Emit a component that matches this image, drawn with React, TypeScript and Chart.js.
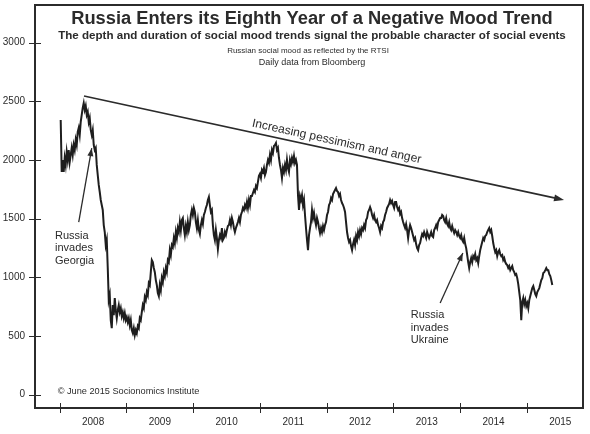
import React, { useEffect, useRef } from "react";
import { Chart, registerables } from "chart.js";

Chart.register(...registerables);

const FONT = '"Liberation Sans", Arial, Helvetica, sans-serif';
const INK = "#2b2b2b";

// Sampling of the RTSI series (decimal years), roughly every 5.5 days
const startYear = 2008.015;
const sampleStepYears = 0.015;

// RTSI index values, in order
const rtsiValues = [
  2340, 1897, 1999, 1897, 2016, 1957, 2067, 1999, 2084, 1982,
  2042, 2102, 2042, 2127, 2084, 2170, 2127, 2238, 2272, 2213,
  2323, 2383, 2443, 2485, 2426, 2460, 2383, 2409, 2323, 2358,
  2255, 2213, 2255, 2127, 2084, 2102, 1957, 1871, 1786, 1726,
  1658, 1615, 1573, 1444, 1385, 1274, 1317, 1078, 805, 847,
  634, 566, 762, 677, 822, 719, 651, 719, 762, 702,
  736, 668, 702, 651, 694, 634, 660, 617, 651, 591,
  634, 549, 523, 566, 506, 549, 523, 583, 566, 651,
  634, 702, 762, 736, 830, 805, 873, 847, 950, 933,
  1043, 1146, 1129, 1078, 1043, 975, 933, 865, 839, 933,
  890, 992, 958, 1043, 1009, 1078, 1043, 1146, 1129, 1231,
  1189, 1274, 1257, 1334, 1291, 1385, 1334, 1419, 1385, 1470,
  1402, 1487, 1504, 1419, 1359, 1436, 1385, 1470, 1402, 1444,
  1530, 1573, 1530, 1590, 1556, 1470, 1419, 1487, 1402, 1368,
  1444, 1487, 1453, 1530, 1556, 1590, 1615, 1658, 1684, 1615,
  1556, 1573, 1444, 1359, 1317, 1402, 1334, 1240, 1317, 1359,
  1334, 1419, 1317, 1334, 1385, 1359, 1402, 1436, 1444, 1487,
  1444, 1504, 1470, 1419, 1385, 1419, 1444, 1470, 1504, 1470,
  1530, 1556, 1590, 1573, 1615, 1590, 1641, 1590, 1658, 1615,
  1692, 1692, 1718, 1743, 1726, 1777, 1760, 1812, 1863, 1880,
  1846, 1914, 1897, 1931, 1871, 1897, 1957, 1999, 1974, 2042,
  1999, 2084, 2059, 2119, 2127, 2144, 2084, 2102, 2016, 1957,
  1914, 1846, 1931, 1897, 1957, 1914, 1999, 1931, 1897, 1999,
  1965, 2016, 1982, 2033, 1974, 1999, 1957, 1700, 1573, 1692,
  1658, 1700, 1615, 1658, 1530, 1419, 1317, 1231, 1359, 1419,
  1470, 1573, 1504, 1547, 1487, 1444, 1504, 1470, 1419, 1376,
  1419, 1385, 1436, 1402, 1444, 1470, 1530, 1556, 1615, 1632,
  1675, 1658, 1709, 1726, 1743, 1760, 1735, 1726, 1692, 1709,
  1658, 1632, 1615, 1590, 1556, 1470, 1385, 1334, 1300, 1317,
  1265, 1231, 1282, 1317, 1274, 1351, 1317, 1385, 1351, 1402,
  1368, 1419, 1402, 1444, 1419, 1487, 1504, 1556, 1573, 1598,
  1573, 1530, 1504, 1530, 1487, 1470, 1487, 1444, 1419, 1385,
  1436, 1419, 1470, 1487, 1530, 1556, 1590, 1607, 1624, 1658,
  1632, 1650, 1615, 1590, 1641, 1641, 1598, 1573, 1590, 1539,
  1556, 1504, 1470, 1444, 1419, 1453, 1402, 1334, 1402, 1444,
  1419, 1385, 1351, 1317, 1334, 1282, 1248, 1231, 1274, 1291,
  1334, 1368, 1351, 1385, 1359, 1334, 1385, 1359, 1334, 1359,
  1385, 1351, 1342, 1402, 1419, 1444, 1419, 1470, 1487, 1504,
  1504, 1530, 1521, 1487, 1470, 1504, 1453, 1436, 1470, 1419,
  1402, 1436, 1402, 1376, 1402, 1385, 1359, 1385, 1351, 1334,
  1359, 1317, 1300, 1334, 1282, 1248, 1189, 1129, 1078, 1129,
  1163, 1129, 1180, 1163, 1197, 1146, 1163, 1120, 1180, 1231,
  1265, 1300, 1334, 1317, 1351, 1359, 1385, 1402, 1419, 1385,
  1402, 1351, 1291, 1248, 1214, 1231, 1180, 1214, 1231, 1197,
  1180, 1189, 1146, 1163, 1129, 1112, 1103, 1078, 1095, 1060,
  1078, 1095, 1060, 1043, 1018, 1026, 992, 941, 873, 805,
  634, 787, 822, 770, 805, 753, 779, 736, 805, 839,
  873, 907, 924, 890, 856, 839, 873, 890, 907, 941,
  975, 992, 1035, 1043, 1060, 1078, 1060, 1060, 1026, 1009,
  975, 933,
];

const yTickValues = [0, 500, 1000, 1500, 2000, 2500, 3000];
const yearStarts = [2008, 2009, 2010, 2011, 2012, 2013, 2014, 2015];
const yearLabels = ["2008", "2009", "2010", "2011", "2012", "2013", "2014", "2015"];

const titleLines = [
  "Russia Enters its Eighth Year of a Negative Mood Trend",
  "The depth and duration of social mood trends signal the probable character of social events",
  "Russian social mood as reflected by the RTSI",
  "Daily data from Bloomberg",
];
const trendLabel = "Increasing pessimism and anger";
const georgiaLines = ["Russia", "invades", "Georgia"];
const ukraineLines = ["Russia", "invades", "Ukraine"];
const copyrightText = "\u00A9 June 2015 Socionomics Institute";

// annotation anchors in data units [year, index]
const trendFrom = [2008.364, 2545];
const trendTo = [2015.556, 1658];
const georgiaArrowFrom = [2008.285, 1470];
const georgiaArrowTo = [2008.48, 2100];
const georgiaTextAt = [2007.93, 1353];
const ukraineArrowFrom = [2013.70, 780];
const ukraineArrowTo = [2014.04, 1207];
const ukraineTextAt = [2013.26, 677];
const copyrightAt = [2007.97, 25];

function arrowHead(ctx: CanvasRenderingContext2D, x1: number, y1: number, x2: number, y2: number, len: number, half: number) {
  const a = Math.atan2(y2 - y1, x2 - x1);
  ctx.beginPath();
  ctx.moveTo(x2, y2);
  ctx.lineTo(x2 - len * Math.cos(a) + half * Math.sin(a), y2 - len * Math.sin(a) - half * Math.cos(a));
  ctx.lineTo(x2 - len * Math.cos(a) - half * Math.sin(a), y2 - len * Math.sin(a) + half * Math.cos(a));
  ctx.closePath();
  ctx.fill();
}

const decorPlugin = {
  id: "decor",
  afterDraw(chart: any) {
    const ctx: CanvasRenderingContext2D = chart.ctx;
    const xs = chart.scales.x;
    const ys = chart.scales.y;
    const area = chart.chartArea;
    const px = (p: number[]) => [xs.getPixelForValue(p[0]), ys.getPixelForValue(p[1])];
    ctx.save();
    ctx.strokeStyle = INK;
    ctx.fillStyle = INK;
    // frame
    ctx.lineWidth = 2;
    ctx.strokeRect(area.left, area.top, area.right - area.left, area.bottom - area.top);
    // tick marks
    ctx.lineWidth = 1;
    ctx.beginPath();
    for (const v of yTickValues) {
      const y = Math.round(ys.getPixelForValue(v)) + 0.5;
      ctx.moveTo(area.left - 6, y);
      ctx.lineTo(area.left + 6, y);
    }
    for (const v of yearStarts) {
      const x = Math.round(xs.getPixelForValue(v)) + 0.5;
      ctx.moveTo(x, area.bottom - 5);
      ctx.lineTo(x, area.bottom + 5);
    }
    ctx.stroke();

    // titles
    const cx = (area.left + area.right) / 2 + 3;
    ctx.textAlign = "center";
    ctx.textBaseline = "middle";
    ctx.font = `bold 18.3px ${FONT}`;
    ctx.fillText(titleLines[0], cx, area.top + 14);
    ctx.font = `bold 11.6px ${FONT}`;
    ctx.fillText(titleLines[1], cx, area.top + 31);
    ctx.font = `8px ${FONT}`;
    ctx.fillText(titleLines[2], cx - 4, area.top + 46);
    ctx.font = `9px ${FONT}`;
    ctx.fillText(titleLines[3], cx, area.top + 58);

    // trend arrow
    const [tx1, ty1] = px(trendFrom);
    const [tx2, ty2] = px(trendTo);
    ctx.lineWidth = 1.6;
    ctx.beginPath();
    ctx.moveTo(tx1, ty1);
    ctx.lineTo(tx2 - 4, ty2 - 4 * (ty2 - ty1) / (tx2 - tx1));
    ctx.stroke();
    arrowHead(ctx, tx1, ty1, tx2, ty2, 10, 3.5);
    const ang = Math.atan2(ty2 - ty1, tx2 - tx1);
    const midX = xs.getPixelForValue(2012.12);
    const midY = ty1 + (midX - tx1) * Math.tan(ang);
    ctx.save();
    ctx.translate(midX + 9 * Math.sin(ang), midY - 9 * Math.cos(ang));
    ctx.rotate(ang);
    ctx.font = `12px ${FONT}`;
    ctx.fillText(trendLabel, 0, 0);
    ctx.restore();

    // Georgia / Ukraine
    const note = (from: number[], to: number[], at: number[], lines: string[]) => {
      const [ax1, ay1] = px(from);
      const [ax2, ay2] = px(to);
      ctx.lineWidth = 1.3;
      ctx.beginPath();
      ctx.moveTo(ax1, ay1);
      ctx.lineTo(ax2, ay2);
      ctx.stroke();
      arrowHead(ctx, ax1, ay1, ax2, ay2, 8, 3);
      const [lx, ly] = px(at);
      ctx.font = `11px ${FONT}`;
      ctx.textAlign = "left";
      ctx.textBaseline = "middle";
      lines.forEach((t, i) => ctx.fillText(t, lx, ly + i * 12.5));
    };
    note(georgiaArrowFrom, georgiaArrowTo, georgiaTextAt, georgiaLines);
    note(ukraineArrowFrom, ukraineArrowTo, ukraineTextAt, ukraineLines);

    const [cx2, cy2] = px(copyrightAt);
    ctx.font = `9.2px ${FONT}`;
    ctx.textAlign = "left";
    ctx.fillText(copyrightText, cx2, cy2);
    ctx.restore();
  },
};

export default function App() {
  const ref = useRef<HTMLCanvasElement | null>(null);
  useEffect(() => {
    document.body.style.margin = "0";
    const canvas = ref.current;
    if (!canvas) return;
    const points = rtsiValues.map((v, i) => ({ x: startYear + i * sampleStepYears, y: v }));
    const chart = new Chart(canvas, {
      type: "line",
      data: {
        datasets: [
          {
            data: points,
            borderColor: "#1e1e1e",
            borderWidth: 2,
            pointRadius: 0,
            tension: 0,
            fill: false,
          },
        ],
      },
      options: {
        responsive: false,
        animation: false,
        parsing: false as any,
        layout: { padding: { left: 0, right: 7, top: 5, bottom: 0 } },
        plugins: { legend: { display: false }, tooltip: { enabled: false }, title: { display: false } },
        scales: {
          x: {
            type: "linear",
            min: 2007.63,
            max: 2015.84,
            afterBuildTicks: (scale: any) => {
              scale.ticks = yearStarts.map((v) => ({ value: v + 0.5 }));
            },
            afterFit: (scale: any) => {
              scale.height = 26;
              scale.paddingLeft = 0;
              scale.paddingRight = 0;
            },
            ticks: {
              callback: (v: any) => yearLabels[yearStarts.indexOf(Math.floor(Number(v)))] ?? "",
              font: { family: FONT, size: 10 },
              color: INK,
              padding: 8,
              maxRotation: 0,
              autoSkip: false,
            },
            grid: { display: false, drawTicks: false },
            border: { display: false },
          },
          y: {
            type: "linear",
            min: -115,
            max: 3320,
            afterBuildTicks: (scale: any) => {
              scale.ticks = yTickValues.map((v) => ({ value: v }));
            },
            afterFit: (scale: any) => {
              scale.width = 35;
              scale.paddingTop = 0;
              scale.paddingBottom = 0;
            },
            ticks: {
              callback: (v: any) => String(v),
              font: { family: FONT, size: 10 },
              color: INK,
              padding: 10,
            },
            grid: { display: false, drawTicks: false },
            border: { display: false },
          },
        },
      },
      plugins: [decorPlugin],
    });
    return () => chart.destroy();
  }, []);
  return (
    <div style={{ width: 590, height: 434, background: "#fff" }}>
      <canvas ref={ref} width={590} height={434} style={{ display: "block" }} />
    </div>
  );
}
